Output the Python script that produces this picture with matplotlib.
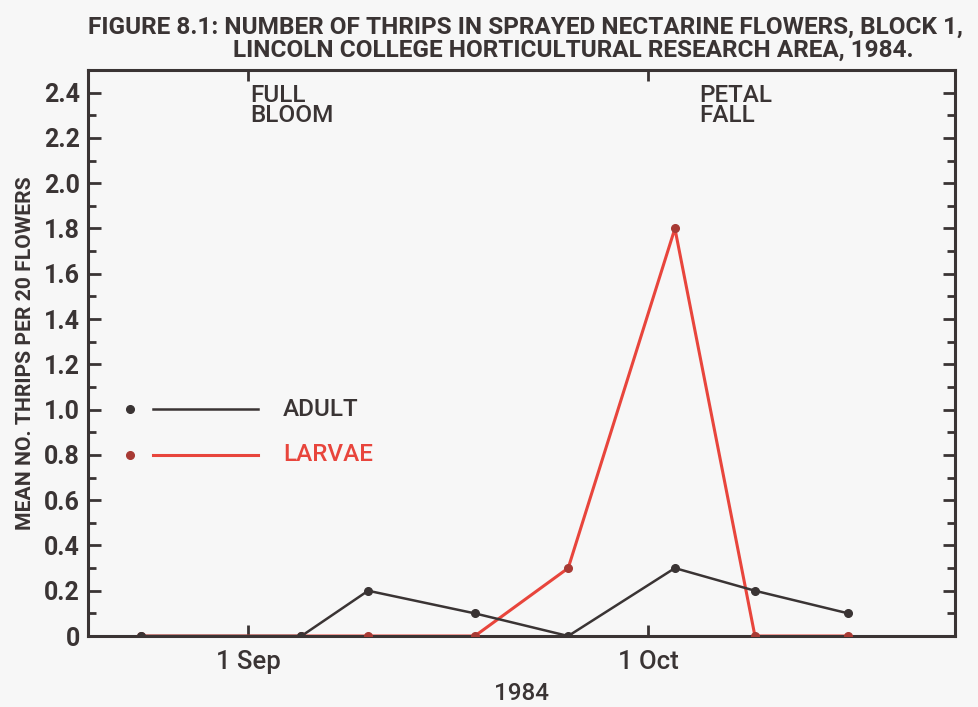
import matplotlib
matplotlib.use("Agg")
import matplotlib.pyplot as plt
from matplotlib.ticker import MultipleLocator
import datetime as dt

# Sampling dates and mean thrips counts per 20 flowers
dates = ["1984-08-24", "1984-09-05", "1984-09-10", "1984-09-18",
         "1984-09-25", "1984-10-03", "1984-10-09", "1984-10-16"]
adult = [0, 0, 0.2, 0.1, 0, 0.3, 0.2, 0.1]
larvae = [0, 0, 0, 0, 0.3, 1.8, 0, 0]

x_ticks = ["1984-09-01", "1984-10-01"]
x_tick_labels = ["1 Sep", "1 Oct"]
y_ticks = [0, 0.2, 0.4, 0.6, 0.8, 1.0, 1.2, 1.4, 1.6, 1.8, 2.0, 2.2, 2.4]
y_tick_labels = ["0", "0.2", "0.4", "0.6", "0.8", "1.0", "1.2", "1.4",
                 "1.6", "1.8", "2.0", "2.2", "2.4"]

plt.rcParams["font.family"] = ["Roboto", "DejaVu Sans"]

bg = "#f7f7f7"
dark = "#3a3434"
red = "#e8453c"
red_dot = "#a83a34"

x = [dt.datetime.strptime(d, "%Y-%m-%d") for d in dates]

fig = plt.figure(figsize=(9.79, 7.07), dpi=100, facecolor=bg)
ax = fig.add_axes([0.0899, 0.1004, 0.8856, 0.8006])
ax.set_facecolor(bg)

ax.plot(x, larvae, color=red, lw=2.2, zorder=2)
ax.plot(x, larvae, "o", color=red_dot, ms=5.5, zorder=4)
ax.plot(x, adult, color=dark, lw=1.8, zorder=3)
ax.plot(x, adult, "o", color=dark, ms=5.5, zorder=5)

ax.set_xlim(dt.datetime(1984, 8, 20), dt.datetime(1984, 10, 24))
ax.set_ylim(0, 2.5)

xt = [dt.datetime.strptime(d, "%Y-%m-%d") for d in x_ticks]
ax.set_xticks(xt)
ax.set_xticklabels(x_tick_labels, fontsize=18.5, fontweight="medium")
ax.set_yticks(y_ticks)
ax.set_yticklabels(y_tick_labels, fontsize=18, fontweight="bold", color=dark)
ax.yaxis.set_minor_locator(MultipleLocator(0.1))
ax.tick_params(axis="both", which="both", direction="in", color=dark,
               top=True, right=True, width=2)
ax.tick_params(axis="y", which="major", length=9, pad=6)
ax.tick_params(axis="y", which="minor", length=6)
ax.tick_params(axis="x", which="major", length=8, pad=10, labelcolor=dark)
for s in ax.spines.values():
    s.set_linewidth(2.2)
    s.set_color(dark)

ax.set_xlabel("1984", fontsize=17.5, color=dark, fontweight="medium", labelpad=6)
ax.set_ylabel("MEAN NO. THRIPS PER 20 FLOWERS", fontsize=15.2, color=dark,
              fontweight="bold", labelpad=6)

# stage markers
ax.text(dt.datetime(1984, 9, 1, 4), 2.44, "FULL\nBLOOM", fontsize=17.5, color=dark,
        fontweight="medium", va="top", ha="left", linespacing=0.85)
ax.text(dt.datetime(1984, 10, 4, 20), 2.44, "PETAL\nFALL", fontsize=17.5, color=dark,
        fontweight="medium", va="top", ha="left", linespacing=0.85)

# legend
ax.plot([0.048], [0.401], "o", color=dark, ms=5.5, transform=ax.transAxes)
ax.plot([0.075, 0.196], [0.401, 0.401], color=dark, lw=1.8, transform=ax.transAxes)
ax.text(0.225, 0.401, "ADULT", fontsize=17.5, color=dark, fontweight="medium",
        va="center", transform=ax.transAxes)
ax.plot([0.048], [0.320], "o", color=red_dot, ms=5.5, transform=ax.transAxes)
ax.plot([0.075, 0.196], [0.320, 0.320], color=red, lw=2.2, transform=ax.transAxes)
ax.text(0.225, 0.320, "LARVAE", fontsize=17.5, color=red, fontweight="medium",
        va="center", transform=ax.transAxes)

fig.text(0.09, 0.977, "FIGURE 8.1: NUMBER OF THRIPS IN SPRAYED NECTARINE FLOWERS, BLOCK 1,",
         fontsize=17.6, fontweight="bold", color=dark, va="top", ha="left")
fig.text(0.238, 0.945, "LINCOLN COLLEGE HORTICULTURAL RESEARCH AREA, 1984.",
         fontsize=17.6, fontweight="bold", color=dark, va="top", ha="left")

fig.savefig("out.png", dpi=100, facecolor=bg)
